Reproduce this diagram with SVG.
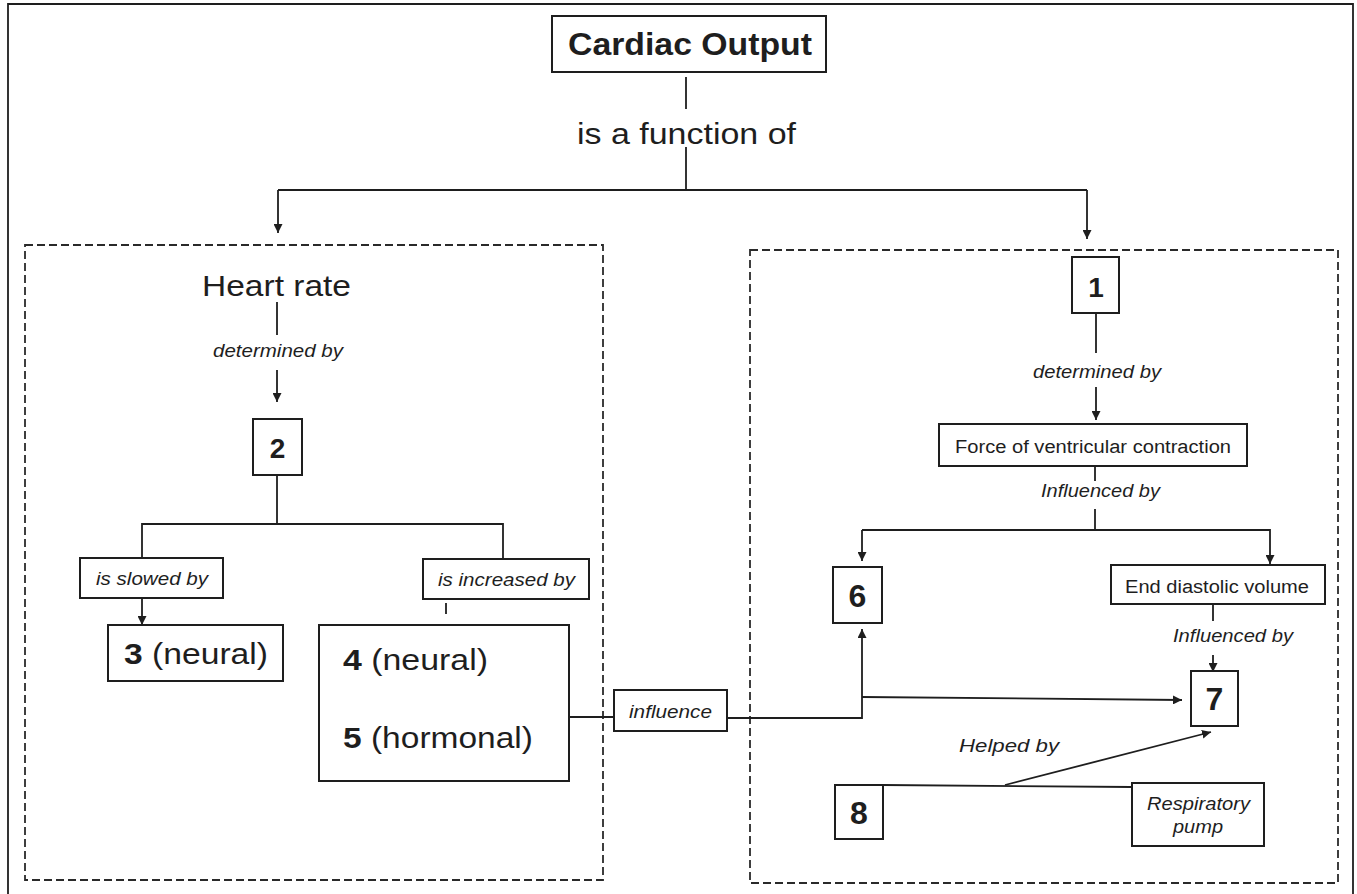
<svg xmlns="http://www.w3.org/2000/svg" width="1357" height="894" viewBox="0 0 1357 894">
<defs>
<style>
.bx{fill:none;stroke:#1e1e1e;stroke-width:2}
.dash{fill:none;stroke:#2a2a2a;stroke-width:1.8;stroke-dasharray:8 4}
.ln{fill:none;stroke:#1e1e1e;stroke-width:1.8}
.t{font-family:"Liberation Sans",Arial,sans-serif;fill:#1e1e1e}
.it{font-style:italic}
.b{font-weight:bold}
</style>
<marker id="ah" viewBox="0 0 10 10" refX="10" refY="5" markerWidth="9" markerHeight="9" markerUnits="userSpaceOnUse" orient="auto">
<path d="M0,0 L10,5 L0,10 z" fill="#1e1e1e"/>
</marker>
</defs>
<rect width="1357" height="894" fill="#ffffff"/>
<path class="ln" d="M8,894 V4 H1353 V894" stroke-width="2"/>

<g id="frame-left"><rect class="dash" x="25" y="245" width="578" height="635"/></g>
<g id="frame-right"><rect class="dash" x="750" y="250" width="588" height="633"/></g>

<g id="connectors">
<line class="ln" x1="686" y1="77" x2="686" y2="109"/>
<line class="ln" x1="686" y1="147" x2="686" y2="190"/>
<polyline class="ln" points="278,190 1087,190"/>
<line class="ln" x1="278" y1="190" x2="278" y2="233" marker-end="url(#ah)"/>
<line class="ln" x1="1087" y1="190" x2="1087" y2="239" marker-end="url(#ah)"/>
<line class="ln" x1="277" y1="302" x2="277" y2="335"/>
<line class="ln" x1="277" y1="370" x2="277" y2="402" marker-end="url(#ah)"/>
<polyline class="ln" points="277,475 277,524"/>
<polyline class="ln" points="142,558 142,524 503,524 503,559"/>
<line class="ln" x1="142" y1="598" x2="142" y2="625" marker-end="url(#ah)"/>
<line class="ln" x1="446" y1="603" x2="446" y2="614"/>
<line class="ln" x1="569" y1="717" x2="614" y2="717"/>
<polyline class="ln" points="727,718 862,718 862,629" marker-end="url(#ah)"/>
<line class="ln" x1="862" y1="697" x2="1182" y2="700" marker-end="url(#ah)"/>
<line class="ln" x1="1096" y1="313" x2="1096" y2="353"/>
<line class="ln" x1="1096" y1="387" x2="1096" y2="420" marker-end="url(#ah)"/>
<line class="ln" x1="1095" y1="466" x2="1095" y2="481"/>
<line class="ln" x1="1095" y1="509" x2="1095" y2="530"/>
<polyline class="ln" points="862,530 1270,530 1270,564" marker-end="url(#ah)"/>
<line class="ln" x1="862" y1="530" x2="862" y2="561" marker-end="url(#ah)"/>
<line class="ln" x1="1213" y1="604" x2="1213" y2="621"/>
<line class="ln" x1="1213" y1="655" x2="1213" y2="672" marker-end="url(#ah)"/>
<line class="ln" x1="883" y1="785" x2="1132" y2="787"/>
<line class="ln" x1="1005" y1="785" x2="1211" y2="732" marker-end="url(#ah)"/>
</g>

<g id="cardiac-output">
<rect class="bx" x="552" y="16" width="274" height="56"/>
<text class="t b" x="568" y="55" font-size="32" textLength="244" lengthAdjust="spacingAndGlyphs">Cardiac Output</text>
</g>
<g id="label-function">
<text class="t" x="577" y="144" font-size="30" textLength="219" lengthAdjust="spacingAndGlyphs">is a function of</text>
</g>
<g id="heart-rate">
<text class="t" x="202" y="296" font-size="29" textLength="149" lengthAdjust="spacingAndGlyphs">Heart rate</text>
</g>
<g id="label-determined-left">
<text class="t it" x="213" y="357" font-size="17.5" textLength="130" lengthAdjust="spacingAndGlyphs">determined by</text>
</g>
<g id="node-2">
<rect class="bx" x="253" y="419" width="49" height="56"/>
<text class="t b" x="277.5" y="458" font-size="28" text-anchor="middle">2</text>
</g>
<g id="label-slowed">
<rect class="bx" x="80" y="558" width="143" height="40"/>
<text class="t it" x="96" y="585" font-size="17.5" textLength="112" lengthAdjust="spacingAndGlyphs">is slowed by</text>
</g>
<g id="label-increased">
<rect class="bx" x="423" y="559" width="166" height="40"/>
<text class="t it" x="438" y="586" font-size="17.5" textLength="137" lengthAdjust="spacingAndGlyphs">is increased by</text>
</g>
<g id="node-3">
<rect class="bx" x="108" y="625" width="175" height="56"/>
<text class="t" x="124" y="664" font-size="29" textLength="144" lengthAdjust="spacingAndGlyphs"><tspan class="b">3</tspan> (neural)</text>
</g>
<g id="node-4-5">
<rect class="bx" x="319" y="625" width="250" height="156"/>
<text class="t" x="343" y="670" font-size="29" textLength="145" lengthAdjust="spacingAndGlyphs"><tspan class="b">4</tspan> (neural)</text>
<text class="t" x="343" y="748" font-size="29" textLength="190" lengthAdjust="spacingAndGlyphs"><tspan class="b">5</tspan> (hormonal)</text>
</g>
<g id="label-influence">
<rect class="bx" x="614" y="690" width="113" height="41"/>
<text class="t it" x="629" y="718" font-size="17.5" textLength="83" lengthAdjust="spacingAndGlyphs">influence</text>
</g>
<g id="node-1">
<rect class="bx" x="1072" y="257" width="47" height="56"/>
<text class="t b" x="1096" y="297" font-size="28" text-anchor="middle">1</text>
</g>
<g id="label-determined-right">
<text class="t it" x="1033" y="378" font-size="17.5" textLength="128" lengthAdjust="spacingAndGlyphs">determined by</text>
</g>
<g id="force">
<rect class="bx" x="939" y="424" width="308" height="42"/>
<text class="t" x="955" y="453" font-size="18" textLength="276" lengthAdjust="spacingAndGlyphs">Force of ventricular contraction</text>
</g>
<g id="label-influenced-1">
<text class="t it" x="1041" y="497" font-size="17.5" textLength="119" lengthAdjust="spacingAndGlyphs">Influenced by</text>
</g>
<g id="node-6">
<rect class="bx" x="833" y="567" width="49" height="56"/>
<text class="t b" x="857.5" y="607" font-size="32" text-anchor="middle">6</text>
</g>
<g id="edv">
<rect class="bx" x="1111" y="565" width="214" height="39"/>
<text class="t" x="1125" y="593" font-size="18" textLength="184" lengthAdjust="spacingAndGlyphs">End diastolic volume</text>
</g>
<g id="label-influenced-2">
<text class="t it" x="1173" y="642" font-size="17.5" textLength="120" lengthAdjust="spacingAndGlyphs">Influenced by</text>
</g>
<g id="node-7">
<rect class="bx" x="1191" y="671" width="47" height="55"/>
<text class="t b" x="1214.5" y="710" font-size="32" text-anchor="middle">7</text>
</g>
<g id="label-helped">
<text class="t it" x="959" y="752" font-size="19" textLength="100" lengthAdjust="spacingAndGlyphs">Helped by</text>
</g>
<g id="node-8">
<rect class="bx" x="835" y="785" width="48" height="54"/>
<text class="t b" x="859" y="824" font-size="32" text-anchor="middle">8</text>
</g>
<g id="respiratory-pump">
<rect class="bx" x="1132" y="783" width="132" height="63"/>
<text class="t it" x="1147" y="810" font-size="17.5" textLength="103" lengthAdjust="spacingAndGlyphs">Respiratory</text>
<text class="t it" x="1173" y="833" font-size="17.5" textLength="50" lengthAdjust="spacingAndGlyphs">pump</text>
</g>
</svg>
